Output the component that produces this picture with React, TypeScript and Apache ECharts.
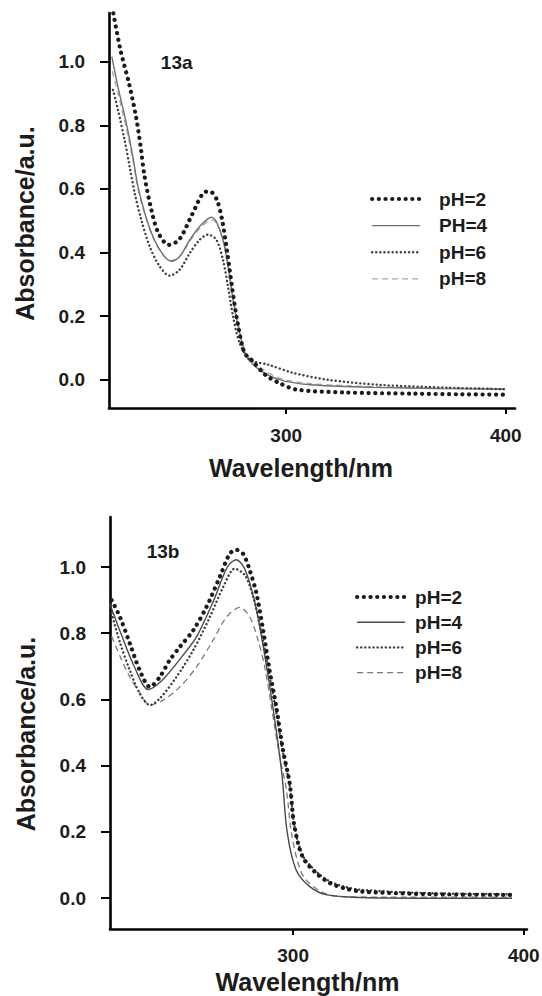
import React, { useEffect, useRef } from "react";
import * as echarts from "echarts";

// ---------- Panel 13a data ----------
const a_pH2_wl = [221.3, 224.5, 228.4, 231.6, 233.9, 235.5, 238.6, 241.8, 246.5, 251.2, 256.7, 262.2, 265.3, 268.4, 270.8, 273.2, 275.5, 277.9, 281, 284.1, 290.4, 296.7, 304.6, 326.5, 358, 380, 399.6];
const a_pH2_abs = [1.152, 1.037, 0.932, 0.827, 0.723, 0.639, 0.534, 0.461, 0.424, 0.44, 0.513, 0.587, 0.592, 0.566, 0.503, 0.398, 0.283, 0.178, 0.084, 0.063, 0.016, -0.01, -0.031, -0.04, -0.044, -0.046, -0.047];

const a_pH4_wl = [220.6, 223.4, 227.2, 230.2, 232.5, 235.6, 239.3, 243.9, 247.7, 251.5, 256.1, 260.6, 266, 268.2, 271.2, 273.5, 275.8, 278.8, 281.9, 287.9, 297, 310.7, 340, 370, 399.6];
const a_pH4_abs = [1.016, 0.92, 0.806, 0.7, 0.607, 0.524, 0.45, 0.393, 0.372, 0.387, 0.44, 0.482, 0.511, 0.497, 0.44, 0.356, 0.251, 0.147, 0.073, 0.031, 0.0, -0.016, -0.024, -0.028, -0.03];

const a_pH6_wl = [221.1, 223.4, 226.4, 228.7, 231, 234, 237.8, 242.4, 246.9, 251.5, 256.1, 260.6, 264.4, 268.2, 271.2, 273.5, 275.8, 278.8, 283.4, 292, 302.9, 318.7, 342, 373.5, 399.6];
const a_pH6_abs = [0.911, 0.848, 0.754, 0.67, 0.587, 0.503, 0.419, 0.356, 0.327, 0.346, 0.398, 0.44, 0.456, 0.44, 0.377, 0.293, 0.199, 0.115, 0.063, 0.047, 0.022, 0.0, -0.016, -0.025, -0.03];

const a_pH8_wl = [220.8, 223.4, 227.2, 230.2, 232.5, 235.6, 239.3, 243.9, 247.7, 251.5, 256.1, 260.6, 266, 268.2, 271.2, 273.5, 275.8, 278.8, 281.9, 287.9, 297, 310.7, 340, 370, 399.6];
const a_pH8_abs = [0.97, 0.9, 0.79, 0.69, 0.6, 0.52, 0.447, 0.392, 0.375, 0.388, 0.435, 0.475, 0.503, 0.492, 0.445, 0.365, 0.262, 0.158, 0.082, 0.04, 0.005, -0.012, -0.022, -0.026, -0.028];

// ---------- Panel 13b data ----------
const b_pH2_wl = [221.3, 224.9, 229.2, 233.5, 237.9, 242.2, 246.5, 250.9, 256.7, 262.4, 268.2, 272.5, 275.4, 278.3, 281.2, 284.1, 287, 289.8, 292.7, 295.6, 298.5, 300.5, 304.1, 310.1, 316.1, 322.2, 329.6, 360, 394.9];
const b_pH2_abs = [0.9, 0.849, 0.769, 0.688, 0.638, 0.668, 0.719, 0.759, 0.809, 0.879, 0.97, 1.04, 1.052, 1.04, 0.99, 0.92, 0.809, 0.688, 0.578, 0.447, 0.347, 0.22, 0.125, 0.075, 0.045, 0.03, 0.02, 0.012, 0.01];

const b_pH4_wl = [220.5, 225.3, 231.2, 237.2, 243.2, 250.6, 258.1, 265.6, 271.5, 275.3, 279, 283.5, 288, 292.2, 295.2, 297.4, 301.3, 307.2, 314.7, 330, 360, 394.9];
const b_pH4_abs = [0.89, 0.8, 0.698, 0.63, 0.658, 0.719, 0.789, 0.9, 1.0, 1.022, 0.995, 0.89, 0.72, 0.53, 0.37, 0.2, 0.085, 0.035, 0.01, 0.002, 0.0, 0.0];

const b_pH6_wl = [221.3, 225, 229.2, 233.5, 237.9, 242.2, 249.4, 256.7, 263.9, 269.7, 274.7, 279.1, 282.7, 286.3, 289.8, 292.7, 295.6, 298.5, 300.5, 304.1, 310.1, 316.1, 322.2, 330, 360, 394.9];
const b_pH6_abs = [0.86, 0.77, 0.688, 0.618, 0.583, 0.603, 0.668, 0.749, 0.849, 0.94, 0.995, 0.975, 0.91, 0.8, 0.67, 0.56, 0.44, 0.34, 0.22, 0.13, 0.08, 0.05, 0.035, 0.025, 0.015, 0.012];

const b_pH8_wl = [221.3, 225, 229.2, 233.5, 237.9, 243.7, 250.9, 258.1, 265.3, 271.1, 276.9, 281.2, 284.8, 287.7, 290.6, 294.2, 297.1, 299.2, 302, 305, 312, 320, 340, 394.9];
const b_pH8_abs = [0.79, 0.73, 0.668, 0.62, 0.583, 0.598, 0.638, 0.698, 0.779, 0.849, 0.878, 0.849, 0.779, 0.698, 0.578, 0.427, 0.327, 0.2, 0.11, 0.06, 0.02, 0.005, 0.003, 0.003];

// ---------- ticks / labels ----------
const xTickValues = [300, 400];
const yTickValues = [0, 0.2, 0.4, 0.6, 0.8, 1.0];
const legendNamesA = ["pH=2", "PH=4", "pH=6", "pH=8"];
const legendNamesB = ["pH=2", "pH=4", "pH=6", "pH=8"];

const FONT = '"Liberation Sans", Arial, sans-serif';
const TXT = "#1c1c1c";

const zip = (xs: number[], ys: number[]) => xs.map((x, i) => [x, ys[i]]);

type Style = { color: string; width: number; type: any; cap: string };

const bigDots = (c: string): Style => ({ color: c, width: 4.2, type: [0.1, 6.6], cap: "round" });
const smallDots = (c: string): Style => ({ color: c, width: 2.4, type: [0.1, 4], cap: "round" });
const solid = (c: string): Style => ({ color: c, width: 1.4, type: "solid", cap: "butt" });
const dashed = (c: string): Style => ({ color: c, width: 1.3, type: [6, 4], cap: "butt" });

function makeOption(p: any) {
  const styleByName: Record<string, Style> = {};
  p.series.forEach((s: any) => (styleByName[s.name] = s.style));
  return {
    animation: false,
    backgroundColor: "#ffffff",
    grid: {
      left: p.grid[0],
      top: p.grid[1],
      width: p.grid[2],
      height: p.grid[3],
      containLabel: false,
      outerBoundsMode: "none",
    },
    xAxis: {
      type: "value",
      min: p.xMin,
      max: p.xMax,
      name: "Wavelength/nm",
      nameLocation: "middle",
      nameGap: p.xNameGap,
      nameTextStyle: { fontFamily: FONT, fontWeight: "bold", fontSize: 25, color: TXT, padding: [0, 22, 0, 0] },
      axisLine: { show: true, onZero: false, lineStyle: { color: "#000", width: 2.6 } },
      axisTick: { show: true, customValues: xTickValues, length: 6, lineStyle: { color: "#000", width: 2 } },
      axisLabel: { show: true, customValues: xTickValues, margin: p.xLabelMargin, fontFamily: FONT, fontWeight: "bold", fontSize: 19, color: TXT },
      splitLine: { show: false },
    },
    yAxis: {
      type: "value",
      min: p.yMin,
      max: p.yMax,
      name: "Absorbance/a.u.",
      nameLocation: "middle",
      nameGap: 72,
      nameRotate: 90,
      nameTextStyle: { fontFamily: FONT, fontWeight: "bold", fontSize: 25, color: TXT, padding: p.yNamePad },
      axisLine: { show: true, onZero: false, lineStyle: { color: "#000", width: 2.6 } },
      axisTick: { show: true, customValues: yTickValues, length: 9, lineStyle: { color: "#000", width: 2 } },
      axisLabel: {
        show: true,
        customValues: yTickValues,
        margin: 24,
        fontFamily: FONT,
        fontWeight: "bold",
        fontSize: 19,
        color: TXT,
        formatter: (v: number) => v.toFixed(1),
      },
      splitLine: { show: false },
    },
    legend: {
      orient: "vertical",
      left: p.legendLeft,
      top: p.legendTop,
      itemWidth: 48,
      itemHeight: 12,
      itemGap: p.legendGap,
      selectedMode: false,
      data: p.names.map((n: string) => {
        const st = styleByName[n];
        return {
          name: n,
          itemStyle: { opacity: 0 },
          lineStyle: { color: st.color, width: st.width, type: st.type, cap: st.cap },
        };
      }),
      textStyle: { fontFamily: FONT, fontWeight: "bold", fontSize: 19, color: TXT, lineHeight: 20, padding: [0, 0, 0, p.legendTextPad] },
    },
    graphic: [
      {
        type: "text",
        x: p.tag[1],
        y: p.tag[2],
        style: { text: p.tag[0], fill: TXT, font: `bold 19px ${FONT}`, align: "center", verticalAlign: "middle" },
      },
    ],
    series: p.series.map((s: any) => ({
      type: "line",
      name: s.name,
      data: s.data,
      smooth: 0.3,
      symbol: "none",
      showSymbol: false,
      lineStyle: s.style,
      itemStyle: { color: s.style.color },
      z: s.z,
    })),
  };
}

const panelA = {
  grid: [109, 13, 406, 395],
  xMin: 219.3,
  xMax: 404.2,
  yMin: -0.089,
  yMax: 1.153,
  xNameGap: 47,
  xLabelMargin: 18,
  yNamePad: [0, 26, 0, 0],
  legendLeft: 365,
  legendTop: 184,
  legendGap: 6.6,
  legendTextPad: 14,
  names: legendNamesA,
  tag: ["13a", 176.7, 62],
  series: [
    { name: "pH=8", data: zip(a_pH8_wl, a_pH8_abs), style: dashed("#a8a8a8"), z: 2 },
    { name: "PH=4", data: zip(a_pH4_wl, a_pH4_abs), style: solid("#707070"), z: 3 },
    { name: "pH=6", data: zip(a_pH6_wl, a_pH6_abs), style: smallDots("#404040"), z: 4 },
    { name: "pH=2", data: zip(a_pH2_wl, a_pH2_abs), style: bigDots("#1a1a1a"), z: 5 },
  ],
};

const panelB = {
  grid: [110, 27, 417, 412],
  xMin: 220.6,
  xMax: 401.4,
  yMin: -0.093,
  yMax: 1.151,
  xNameGap: 39,
  xLabelMargin: 17,
  yNamePad: [0, 22, 0, 0],
  legendLeft: 350,
  legendTop: 92,
  legendGap: 5.2,
  legendTextPad: 5,
  names: legendNamesB,
  tag: ["13b", 163, 61.7],
  series: [
    { name: "pH=8", data: zip(b_pH8_wl, b_pH8_abs), style: dashed("#7a7a7a"), z: 2 },
    { name: "pH=4", data: zip(b_pH4_wl, b_pH4_abs), style: solid("#4a4a4a"), z: 3 },
    { name: "pH=6", data: zip(b_pH6_wl, b_pH6_abs), style: smallDots("#404040"), z: 4 },
    { name: "pH=2", data: zip(b_pH2_wl, b_pH2_abs), style: bigDots("#1a1a1a"), z: 5 },
  ],
};

function Panel({ cfg, top, height }: { cfg: any; top: number; height: number }) {
  const ref = useRef<HTMLDivElement>(null);
  useEffect(() => {
    if (!ref.current) return;
    const chart = echarts.init(ref.current, undefined, { renderer: "svg" });
    chart.setOption(makeOption(cfg) as any);
    return () => chart.dispose();
  }, [cfg]);
  return <div ref={ref} style={{ position: "absolute", left: 0, top, width: 542, height }} />;
}

export default function App() {
  return (
    <div style={{ position: "fixed", left: 0, top: 0, width: 542, height: 996, background: "#fff" }}>
      <Panel cfg={panelA} top={0} height={490} />
      <Panel cfg={panelB} top={490} height={506} />
    </div>
  );
}
